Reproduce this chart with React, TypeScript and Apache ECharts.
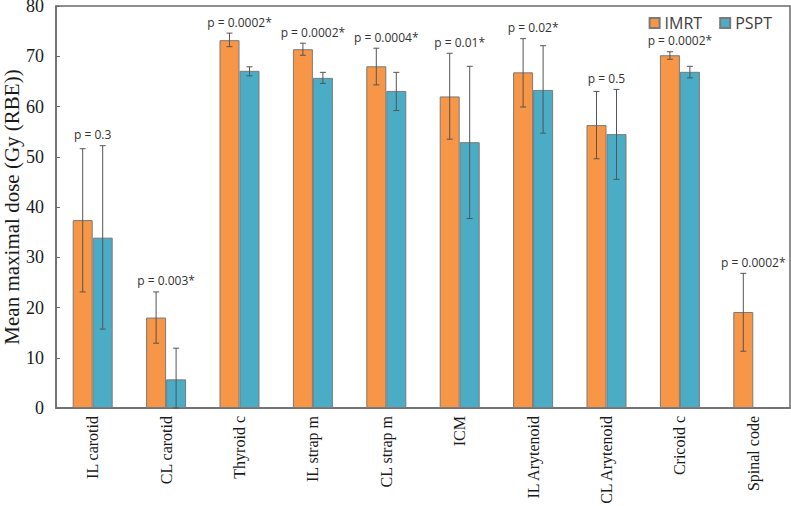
import React, { useEffect, useRef } from "react";
import * as echarts from "echarts";

const categories = [
  "IL carotid",
  "CL carotid",
  "Thyroid c",
  "IL strap m",
  "CL strap m",
  "ICM",
  "IL Arytenoid",
  "CL Arytenoid",
  "Cricoid c",
  "Spinal code",
];

const imrtMean = [37.4, 18.0, 73.2, 71.4, 68.0, 62.0, 66.8, 56.3, 70.2, 19.1];
const imrtLow = [23.1, 12.9, 71.9, 70.2, 64.3, 53.5, 59.9, 49.6, 69.4, 11.3];
const imrtHigh = [51.6, 23.1, 74.6, 72.6, 71.6, 70.6, 73.5, 63.0, 70.9, 26.8];

const psptMean: (number | null)[] = [33.9, 5.7, 67.1, 65.7, 63.1, 52.9, 63.3, 54.5, 66.9, null];
const psptLow: (number | null)[] = [15.7, 0, 66.1, 64.6, 59.2, 37.7, 54.7, 45.5, 65.7, null];
const psptHigh: (number | null)[] = [52.2, 11.9, 67.9, 66.8, 66.8, 68.0, 72.1, 63.4, 68.0, null];

const pLabels = [
  "p = 0.3",
  "p = 0.003*",
  "p = 0.0002*",
  "p = 0.0002*",
  "p = 0.0004*",
  "p = 0.01*",
  "p = 0.02*",
  "p = 0.5",
  "p = 0.0002*",
  "p = 0.0002*",
];

const yTicks = [0, 10, 20, 30, 40, 50, 60, 70, 80];

const ORANGE = "#F79646";
const BLUE = "#4BACC6";
const BAR_W = 20;

function errorSeries(low: (number | null)[], high: (number | null)[], offset: number) {
  const data = categories
    .map((_, i) => [i, low[i], high[i]])
    .filter((d) => d[1] != null && d[2] != null);
  return {
    type: "custom",
    silent: true,
    z: 5,
    encode: { x: 0, y: [1, 2] },
    data,
    renderItem: (params: any, api: any) => {
      const i = api.value(0);
      const lo = api.coord([i, api.value(1)]);
      const hi = api.coord([i, api.value(2)]);
      const x = lo[0] + offset;
      const cap = 3;
      const style = { stroke: "#555", lineWidth: 1 };
      return {
        type: "group",
        children: [
          { type: "line", shape: { x1: x, y1: lo[1], x2: x, y2: hi[1] }, style },
          { type: "line", shape: { x1: x - cap, y1: hi[1], x2: x + cap, y2: hi[1] }, style },
          { type: "line", shape: { x1: x - cap, y1: lo[1], x2: x + cap, y2: lo[1] }, style },
        ],
      };
    },
  };
}

export default function App() {
  const ref = useRef<HTMLDivElement>(null);

  useEffect(() => {
    if (!ref.current) return;
    const chart = echarts.init(ref.current, undefined, { renderer: "svg" });

    const labelTops = categories.map((_, i) =>
      Math.max(imrtHigh[i], psptHigh[i] == null ? -Infinity : (psptHigh[i] as number))
    );

    chart.setOption({
      animation: false,
      backgroundColor: "#ffffff",
      grid: {
        left: 56,
        right: 1,
        top: 6,
        bottom: 98,
        show: true,
        borderColor: "#6b6b6b",
        borderWidth: 1.5,
        containLabel: false,
        outerBoundsMode: "none",
      },
      legend: {
        top: 10,
        right: 14,
        itemWidth: 10,
        itemHeight: 10,
        itemGap: 17,
        icon: "rect",
        data: ["IMRT", "PSPT"],
        textStyle: {
          fontFamily: "Open Sans",
          fontSize: 16,
          color: "#404040",
        },
      },
      xAxis: {
        type: "category",
        data: categories,
        axisTick: { show: false },
        axisLine: { lineStyle: { color: "#6b6b6b", width: 1.5 } },
        axisLabel: {
          rotate: 90,
          margin: 8,
          interval: 0,
          fontFamily: "Liberation Serif",
          fontSize: 16,
          color: "#1a1a1a",
        },
      },
      yAxis: {
        type: "value",
        min: yTicks[0],
        max: yTicks[yTicks.length - 1],
        interval: 10,
        splitLine: { show: false },
        axisTick: { show: true, inside: true, length: 4, lineStyle: { color: "#6b6b6b" } },
        axisLine: { show: true, lineStyle: { color: "#6b6b6b", width: 1.5 } },
        axisLabel: {
          margin: 12,
          fontFamily: "Liberation Serif",
          fontSize: 18,
          color: "#1a1a1a",
        },
        name: "Mean maximal dose (Gy (RBE))",
        nameLocation: "middle",
        nameGap: 34,
        nameMoveOverlap: false,
        nameTextStyle: {
          fontFamily: "Liberation Serif",
          fontSize: 21,
          color: "#1a1a1a",
        },
      },
      series: [
        {
          name: "IMRT",
          type: "bar",
          data: imrtMean,
          barWidth: BAR_W,
          barGap: "0%",
          itemStyle: { color: ORANGE, borderColor: "#7a7a7a", borderWidth: 1 },
        },
        {
          name: "PSPT",
          type: "bar",
          data: psptMean.map((v) => (v == null ? "-" : v)),
          barWidth: BAR_W,
          barGap: "0%",
          itemStyle: { color: BLUE, borderColor: "#7a7a7a", borderWidth: 1 },
        },
        errorSeries(imrtLow, imrtHigh, -BAR_W / 2),
        errorSeries(psptLow, psptHigh, BAR_W / 2),
        {
          type: "custom",
          silent: true,
          z: 6,
          encode: { x: 0, y: 1 },
          data: labelTops.map((v, i) => [i, v]),
          renderItem: (params: any, api: any) => {
            const i = api.value(0);
            const p = api.coord([i, api.value(1)]);
            return {
              type: "text",
              x: p[0],
              y: p[1] - 11,
              style: {
                text: pLabels[params.dataIndex],
                textAlign: "center",
                textVerticalAlign: "middle",
                fontFamily: "Open Sans",
                fontSize: 12,
                fill: "#333333",
              },
            };
          },
        },
      ],
    });

    return () => chart.dispose();
  }, []);

  return <div ref={ref} style={{ width: 791, height: 506, position: "absolute", left: 0, top: 0 }} />;
}
